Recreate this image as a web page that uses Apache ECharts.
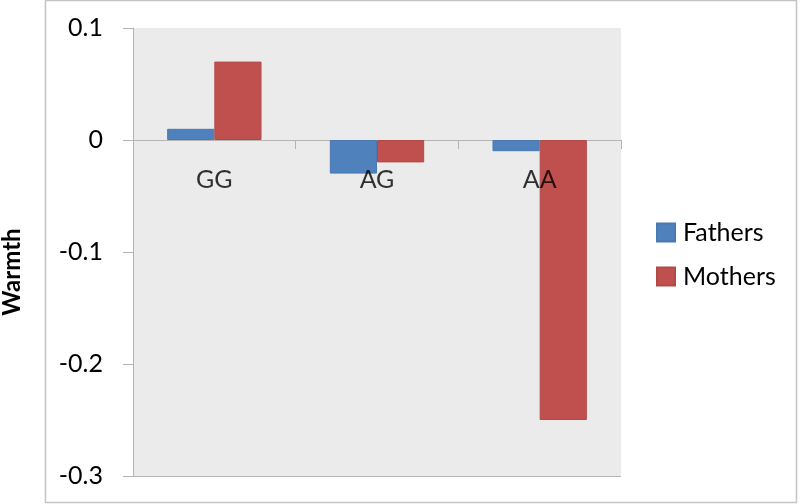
<!DOCTYPE html>
<html>
<head>
<meta charset="utf-8">
<script src="https://cdn.jsdelivr.net/npm/echarts@6/dist/echarts.min.js"></script>
<style>
  html, body { margin: 0; padding: 0; background: #fff; }
  #chart { width: 800px; height: 504px; }
</style>
</head>
<body>
<div id="chart"></div>
<script>
// genotype groups and means
const categories = ['GG', 'AG', 'AA'];
const fathers = [0.01, -0.03, -0.01];
const mothers = [0.07, -0.02, -0.25];

const chart = echarts.init(document.getElementById('chart'));
const font = 'Lato, "Liberation Sans", sans-serif';
const lineGray = '#b4b4b4';

let option = {
  animation: false,
  textStyle: { fontFamily: font },
  grid: {
    left: 133, right: 179, top: 28, bottom: 28,
    outerBoundsMode: 'none',
    containLabel: false,
    show: true,
    backgroundColor: '#ebebeb',
    borderWidth: 0
  },
  legend: {
    orient: 'vertical',
    left: 651,
    top: 215,
    itemWidth: 18,
    itemHeight: 18,
    itemGap: 19,
    icon: 'rect',
    textStyle: { fontSize: 25, color: '#000', fontFamily: font, lineHeight: 25, padding: [0, 0, 0, 3] },
    data: ['Fathers', 'Mothers']
  },
  xAxis: {
    type: 'category',
    data: categories,
    axisLine: { onZero: true, lineStyle: { color: lineGray, width: 1 } },
    axisTick: { show: true, length: 9, lineStyle: { color: lineGray } },
    // labels are drawn at the zero line by the helper series below
    axisLabel: { show: false }
  },
  yAxis: {
    type: 'value',
    min: -0.3,
    max: 0.1,
    interval: 0.1,
    axisLine: { show: true, lineStyle: { color: lineGray } },
    axisTick: { show: true, length: 10, lineStyle: { color: lineGray } },
    // only the bottom split line (at min) is visible, as the plot's lower edge
    splitLine: {
      show: true,
      lineStyle: { color: [lineGray, 'rgba(0,0,0,0)', 'rgba(0,0,0,0)', 'rgba(0,0,0,0)', 'rgba(0,0,0,0)'] }
    },
    axisLabel: {
      fontSize: 25, color: '#000', margin: 30, fontFamily: font,
      formatter: v => String(Math.round(v * 10) / 10)
    }
  },
  series: [{
    name: 'Fathers',
    type: 'bar',
    data: fathers,
    barGap: '0%',
    barCategoryGap: '42%',
    itemStyle: { color: '#4f81bd', borderColor: '#4a79b1', borderWidth: 1 }
  }, {
    name: 'Mothers',
    type: 'bar',
    data: mothers,
    itemStyle: { color: '#c0504d', borderColor: '#b04a47', borderWidth: 1 }
  }, {
    name: 'labels',
    type: 'scatter',
    data: categories.map(() => 0),
    symbolSize: 0,
    silent: true,
    z: 5,
    label: {
      show: true,
      position: 'bottom',
      distance: 27,
      formatter: '{b}',
      fontSize: 25,
      color: '#000',
      fontFamily: font
    }
  }],
  graphic: [{
    type: 'rect',
    shape: { x: 45.5, y: 0.5, width: 751, height: 502 },
    style: { fill: 'none', stroke: '#c4c4c4', lineWidth: 1.5 },
    silent: true
  }, {
    type: 'text',
    x: 12,
    y: 272,
    rotation: Math.PI / 2,
    style: {
      text: 'Warmth',
      font: 'bold 24px ' + font,
      fill: '#000',
      align: 'center',
      verticalAlign: 'middle'
    }
  }]
};

chart.setOption(option);
</script>
</body>
</html>
